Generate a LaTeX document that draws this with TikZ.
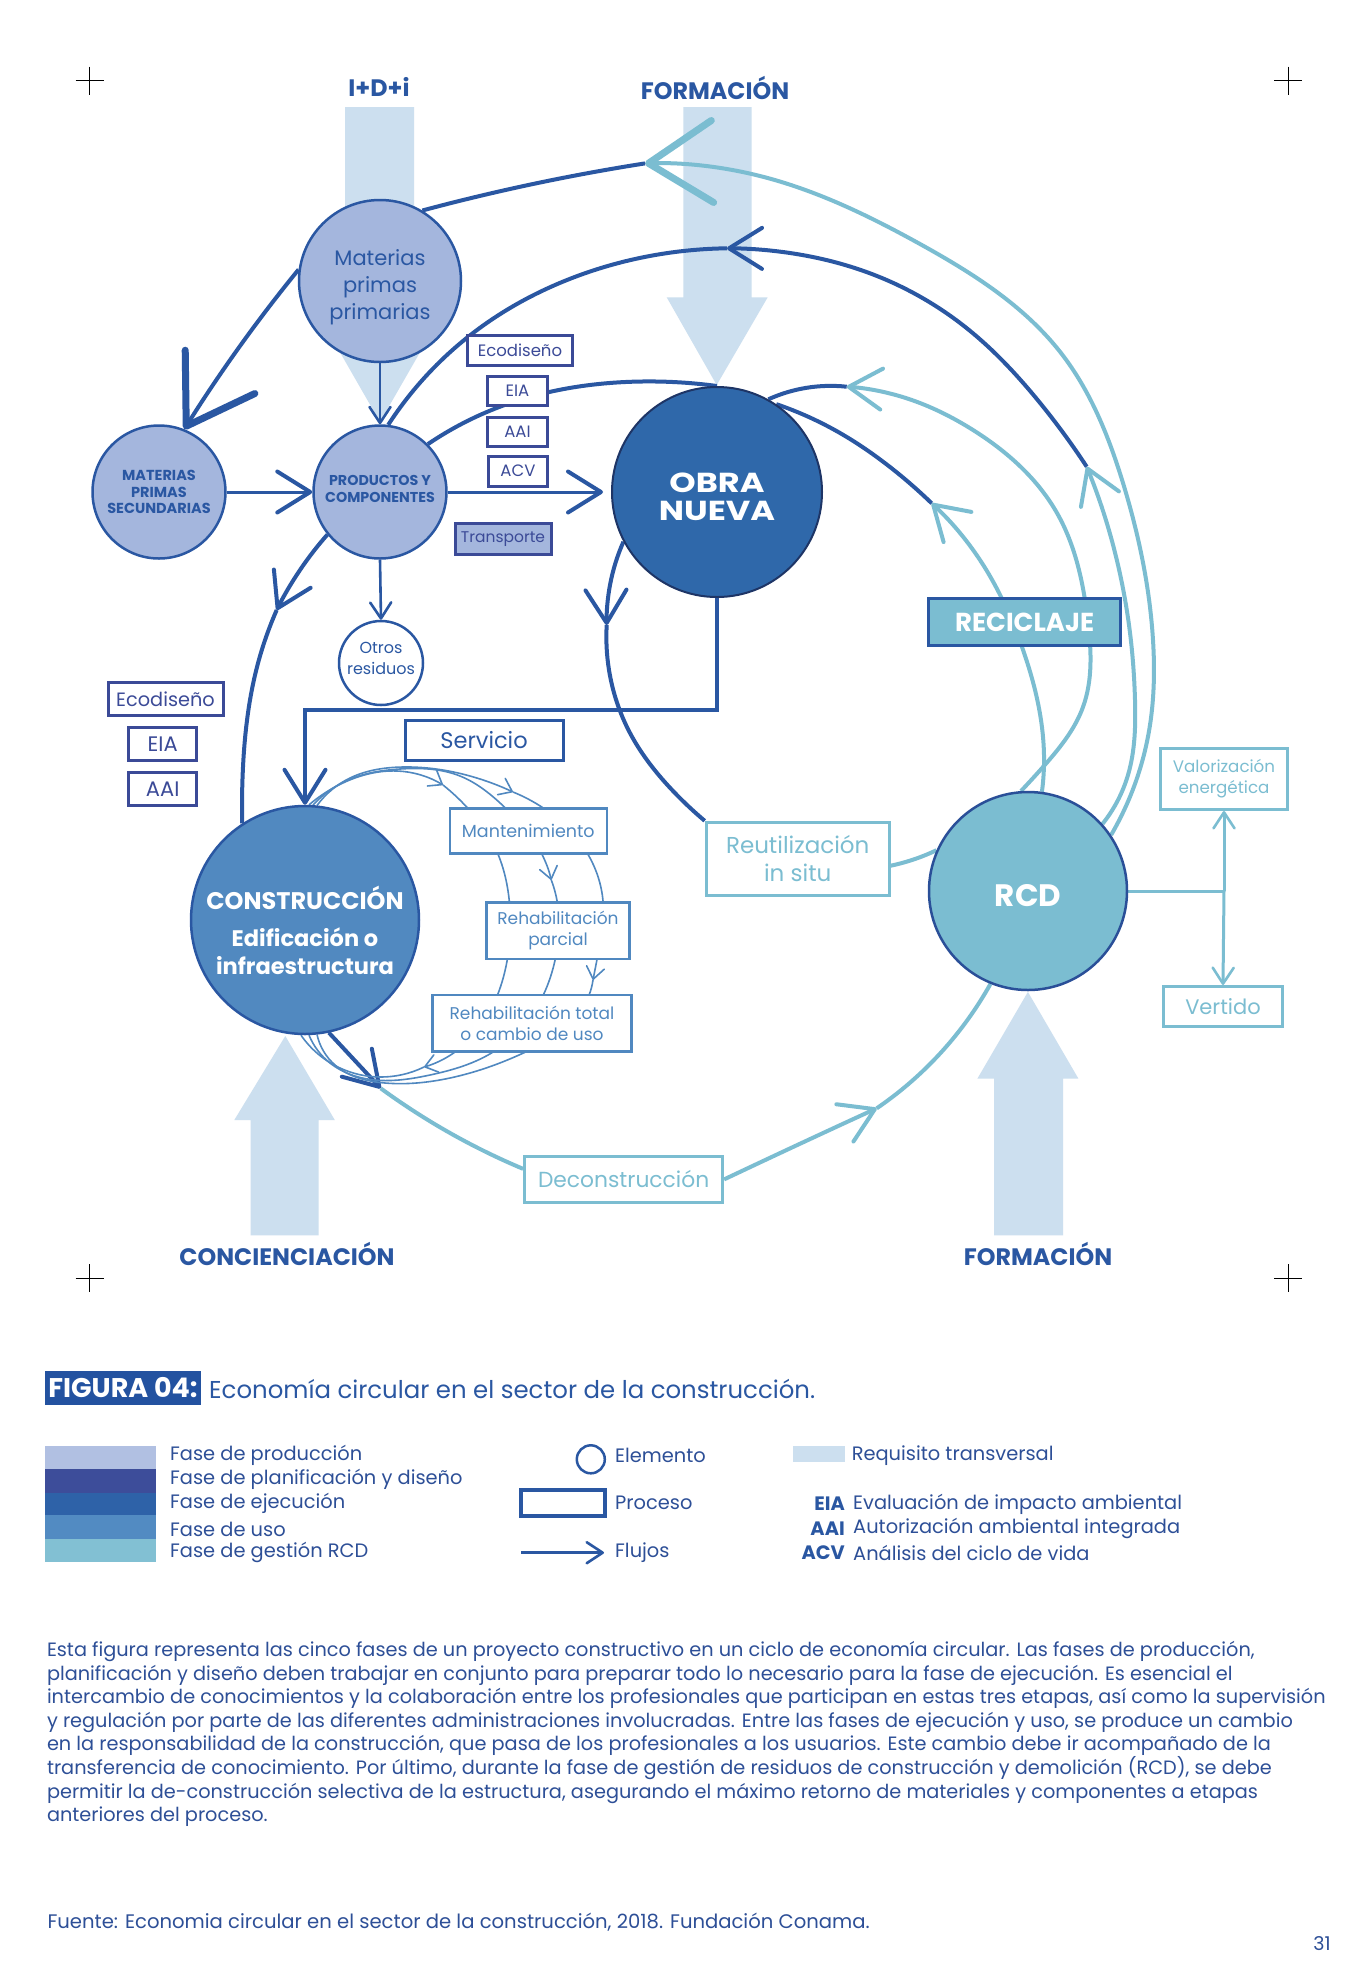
\documentclass[tikz,border=0pt]{standalone}
\usepackage{fontspec}
\setmainfont{Poppins}
\usetikzlibrary{arrows.meta,calc,hobby}
\pgfdeclarelayer{back}
\pgfdeclarelayer{bg}
\pgfsetlayers{back,bg,main}
\definecolor{cdark}{HTML}{2A57A2}
\definecolor{cindigo}{HTML}{3B4A97}
\definecolor{cprod}{HTML}{A4B6DD}
\definecolor{cobra}{HTML}{2F68AA}
\definecolor{cobraline}{HTML}{1E3566}
\definecolor{ccons}{HTML}{5189C0}
\definecolor{crcd}{HTML}{7BBDD1}
\definecolor{crcdline}{HTML}{2A4F98}
\definecolor{clight}{HTML}{7BBDD1}
\definecolor{cuse}{HTML}{5088C0}
\definecolor{ctrans}{HTML}{CCDFEF}
\definecolor{ctext}{HTML}{2D4F97}
\definecolor{cfig}{HTML}{2352A0}
\definecolor{clegprod}{HTML}{B1C0E2}
\definecolor{clegplan}{HTML}{3D4D9A}
\definecolor{clegejec}{HTML}{2E62A8}
\definecolor{cleguso}{HTML}{528BC2}
\definecolor{clegrcd}{HTML}{82C0D3}
\newcommand\myfs[2]{\fontsize{#1}{#2}\selectfont}
\tikzset{
  BigChev/.tip={Straight Barb[length=64pt,width=82pt,line width=7pt,round]},
  MedChev/.tip={Straight Barb[length=33pt,width=41pt,line width=4pt,round]},
  SmallChev/.tip={Straight Barb[length=16pt,width=21pt,line width=2.6pt,round]},
  ThinChev/.tip={Straight Barb[length=12pt,width=18pt,line width=1.6pt,round]},
  darkln/.style={draw=cdark, line width=4pt},
  lightln/.style={draw=clight, line width=4pt},
  thinln/.style={draw=cuse, line width=1.6pt},
  circ/.style={circle, inner sep=0pt, align=center, line width=2.5pt},
  box/.style={rectangle, inner sep=0pt, align=center, line width=3pt, fill=white},
  planbox/.style={box, draw=cindigo, text=cindigo},
  usebox/.style={box, draw=cuse, text=cuse, line width=2.6pt},
  rcdbox/.style={box, draw=clight, text=clight},
  toplabel/.style={font=\bfseries\myfs{23.8}{27}, text=cdark, inner sep=0pt},
  legtext/.style={font=\myfs{19.4}{23}, text=ctext, anchor=west, inner sep=0pt},
  cross/.style={draw=black, line width=1pt},
}
\begin{document}
\begin{tikzpicture}[x=1pt,y=-1pt]
\begin{pgfonlayer}{back}
\fill[white] (0,0) rectangle (1348,1974);
% transversal requirement arrows
\fill[ctrans] (345,107) -- (414,107) -- (414,334) -- (430.5,334) -- (380,422) -- (329.5,334) -- (345,334) -- cycle;
\fill[ctrans] (683.3,107) -- (751.7,107) -- (751.7,297.3) -- (767.7,297.3) -- (716.7,385) -- (666.7,297.3) -- (683.3,297.3) -- cycle;
\fill[ctrans] (994,1235.4) -- (1063,1235.4) -- (1063,1078.6) -- (1078.4,1078.6) -- (1027.9,991.9) -- (977.4,1078.6) -- (994,1078.6) -- cycle;
\fill[ctrans] (250.6,1235.4) -- (318.5,1235.4) -- (318.5,1120) -- (334.8,1120) -- (285.3,1036) -- (234.3,1120) -- (250.6,1120) -- cycle;
\end{pgfonlayer}
\useasboundingbox (0,0) rectangle (1348,1974);

% crosshairs
\foreach \cx/\cy in {89.5/80.5, 1288/80.5, 89.5/1278, 1288/1278}
  {\draw[cross] (\cx-14,\cy) -- (\cx+14,\cy) (\cx,\cy-14) -- (\cx,\cy+14);}

% labels
\node[toplabel] (lidi) at (379,87) {I+D+i};
\node[toplabel] (lform1) at (715,88) {FORMACIÓN};
\node[toplabel] (lconc) at (287,1253.5) {CONCIENCIACIÓN};
\node[toplabel] (lform2) at (1038,1253.5) {FORMACIÓN};

% elements (circles)
\node[circ, draw=cdark, fill=cprod, minimum size=162pt] (mpp) at (380,281) {};
\node[text=cdark, align=center, inner sep=0pt, font=\myfs{21}{27}] (mppT) at (380,287) {Materias\\primas\\primarias};
\node[circ, draw=cdark, fill=cprod, text=cdark, minimum size=133pt, font=\bfseries\myfs{14.5}{16.5}] (mps) at (159,492) {MATERIAS\\PRIMAS\\SECUNDARIAS};
\node[circ, draw=cdark, fill=cprod, minimum size=133pt] (prod) at (380,492) {};
\node[text=cdark, align=center, inner sep=0pt, font=\bfseries\myfs{14.3}{17.3}] (prodT) at (380,489) {PRODUCTOS Y\\COMPONENTES};
\node[circ, draw=cdark, fill=white, minimum size=84pt] (otros) at (381,663) {};
\node[text=cdark, align=center, inner sep=0pt, font=\myfs{16}{21}] (otrosT) at (381,658) {Otros\\residuos};
\node[circ, draw=cobraline, line width=2pt, fill=cobra, minimum size=210pt] (obra) at (717,492) {};
\node[text=white, align=center, inner sep=0pt, font=\bfseries\myfs{27.5}{27.5}\addfontfeature{FakeStretch=1.22}] (obraT) at (717,497) {OBRA\\NUEVA};
\node[circ, draw=cdark, fill=ccons, minimum size=228pt] (cons) at (305,920) {};
\node[text=white, align=center, inner sep=0pt, font=\bfseries\myfs{22.5}{28}] (consT) at (305,930) {{\myfs{24}{28}CONSTRUCCIÓN}\\[9pt]Edificación o\\infraestructura};
\node[circ, draw=crcdline, fill=crcd, minimum size=198pt] (rcd) at (1028,891) {};
\node[text=white, inner sep=0pt, font=\bfseries\myfs{31}{31}] (rcdT) at (1028,896) {RCD};

% processes (boxes)
\node[planbox, minimum width=105pt, minimum height=30pt, font=\myfs{16.5}{20}] (eco1) at (520,350) {Ecodiseño};
\node[planbox, minimum width=60pt, minimum height=29pt, font=\myfs{16.5}{20}] (eia1) at (517.5,390.7) {EIA};
\node[planbox, minimum width=60pt, minimum height=29pt, font=\myfs{16.5}{20}] (aai1) at (517.5,431.5) {AAI};
\node[planbox, minimum width=59pt, minimum height=30pt, font=\myfs{16.5}{20}] (acv1) at (518,471) {ACV};
\node[planbox, fill=cprod, minimum width=96pt, minimum height=31pt, font=\myfs{15.5}{19}] (transp) at (503,539) {Transporte};
\node[planbox, minimum width=115pt, minimum height=33pt, font=\myfs{19.3}{22}] (eco2) at (165.5,699.4) {Ecodiseño};
\node[planbox, minimum width=68pt, minimum height=33pt, font=\myfs{21}{22}] (eia2) at (162.7,744.4) {EIA};
\node[planbox, minimum width=68pt, minimum height=33pt, font=\myfs{21}{22}] (aai2) at (162.7,789.4) {AAI};
\node[box, draw=cdark, text=cdark, minimum width=158pt, minimum height=40pt, font=\myfs{22.5}{24}] (serv) at (484,740) {Servicio};
\node[usebox, minimum width=157pt, minimum height=45pt, font=\myfs{17.5}{21}] (mant) at (528.3,830.8) {Mantenimiento};
\node[usebox, minimum width=143.5pt, minimum height=56.7pt, font=\myfs{17}{21}] (rehp) at (558,930.7) {Rehabilitación\\parcial};
\node[usebox, minimum width=199pt, minimum height=56.7pt, font=\myfs{17}{20.5}] (reht) at (532,1023.4) {Rehabilitación total\\o cambio de uso};
\node[box, fill=crcd, draw=cdark, text=white, minimum width=192pt, minimum height=47pt, font=\bfseries\myfs{26}{27}] (recic) at (1024.7,622) {RECICLAJE};
\node[rcdbox, minimum width=183pt, minimum height=73pt, font=\myfs{23}{28}] (reut) at (797.7,858.8) {Reutilización\\in situ};
\node[rcdbox, minimum width=127.5pt, minimum height=61pt, font=\myfs{16.7}{21}] (valor) at (1224,779) {Valorización\\energética};
\node[rcdbox, minimum width=119pt, minimum height=40pt, font=\myfs{21}{22}] (vert) at (1223,1006.5) {Vertido};
\node[rcdbox, minimum width=198pt, minimum height=46.7pt, font=\myfs{21.8}{25}] (decon) at (623.6,1179.4) {Deconstrucción};

% junction coordinates
\coordinate (aJ) at (645,163.4);
\coordinate (bJ1) at (727,248.3);
\coordinate (bJ2) at (1086.7,466.7);
\coordinate (cJ) at (846.7,386.7);
\coordinate (dJ) at (931.7,503.3);
\coordinate (eJ) at (606.7,625);
\coordinate (fJ) at (276.7,610);
\coordinate (gJ) at (380.7,1088.3);
\coordinate (hJ) at (876.7,1108.3);
\coordinate (elb) at (717,710);
\coordinate (vsplit) at (1224,891);
\coordinate (reutR) at (889.3,866);
\coordinate (u1a) at (443,785);
\coordinate (u1b) at (424,1067);
\coordinate (u2a) at (551.3,880);
\coordinate (u3a) at (513,792);
\coordinate (u3b) at (593,980);

\begin{pgfonlayer}{bg}
% outer return: RCD -> materias primas secundarias
\draw[lightln, -{BigChev}] (rcd.34) to[curve through={(1150,725) .. (1153,640) .. (1123,483) .. (1061,353) .. (920,244) .. (760,176)}] (aJ);
\draw[darkln] (aJ) to[curve through={(533,184)}] (mpp.59);
\draw[darkln, -{BigChev}] (mpp.172) to[curve through={(235,353)}] (mps.68);
% RCD -> productos
\draw[lightln, -{MedChev}] (rcd.42) to[curve through={(1128,775) .. (1135,700) .. (1129,625)}] (bJ2);
\draw[darkln, -{MedChev}] (bJ2) to[curve through={(1036,398) .. (969,330) .. (877,276) .. (790,253)}] (bJ1);
\draw[darkln] (bJ1) to[curve through={(675,252) .. (567,280) .. (477,330)}] (prod.83);
% RCD -> obra nueva (reciclaje)
\draw[lightln, -{MedChev}] (rcd.94) to[curve through={(1043,767) .. (1083,707) .. (1088,622) .. (1057,513) .. (973,430) .. (906.7,398.3)}] (cJ);
\draw[darkln] (cJ) to[curve through={(800,389)}] (obra.61);
\draw[lightln, -{MedChev}] (rcd.82) to[curve through={(1044,755) .. (1022,647) .. (980,560)}] (dJ);
\draw[darkln] (dJ) to[curve through={(890,467) .. (840,433)}] (obra.56);
% productos -> obra nueva
\draw[darkln] (prod.45) to[curve through={(500,406.7) .. (633,381.7)}] (obra.90);
\draw[darkln, line width=3pt, -{MedChev}] (mps.east) -- (prod.west);
\draw[darkln, line width=3pt, -{MedChev}, shorten >=8pt] (prod.east) -- (obra.west);
\draw[darkln, line width=2.6pt, -{SmallChev}] (mpp.south) -- (prod.north);
\draw[darkln, line width=2.6pt, -{SmallChev}] (prod.south) -- (otros.north);
% obra nueva -> reutilizacion
\draw[darkln, -{MedChev}] (obra.208) to[curve through={(610,585)}] (eJ);
\draw[darkln] (eJ) to[curve through={(609,670) .. (630,733) .. (674,792)}] (reut.north west);
\draw[lightln] (reutR) to[curve through={(912,860)}] (rcd.156);
% productos -> construccion
\draw[darkln, -{MedChev}] (prod.219) to[curve through={(300,570)}] (fJ);
\draw[darkln] (fJ) to[curve through={(257,667) .. (243,767)}] (cons.123);
% obra nueva -> construccion (servicio)
\draw[darkln, line width=3.3pt, -{MedChev}] (obra.south) -- (elb) -| (cons.north);
% construccion -> deconstruccion -> RCD
\draw[darkln, -{MedChev}] (cons.-78) -- (gJ);
\draw[lightln] (gJ) to[curve through={(450,1133)}] (decon.174);
\draw[lightln, -{MedChev}] (decon.east) to[curve through={(793,1147)}] (hJ);
\draw[lightln] (hJ) to[curve through={(927,1067)}] (rcd.248);
% RCD -> valorizacion / vertido
\draw[lightln, line width=3pt] (rcd.east) -- (vsplit);
\draw[lightln, line width=3pt, -{SmallChev}] (vsplit) -- (valor.south);
\draw[lightln, line width=3pt, -{SmallChev}] (vsplit) -- (vert.north);
% use cycle
\draw[thinln, -{ThinChev}] (cons.88) to[curve through={(345,782) .. (397,771)}] (u1a);
\draw[thinln, -{ThinChev}] (u1a) to[curve through={(467.6,808) .. (497.5,853) .. (509.4,902) .. (507.4,959) .. (497.5,995) .. (453.6,1053)}] (u1b);
\draw[thinln] (u1b) to[curve through={(380,1077) .. (340,1068)}] (cons.-92);
\draw[thinln, -{ThinChev}] (cons.86) to[curve through={(348,780) .. (400,769) .. (460,776) .. (505.4,808) .. (541.3,853)}] (u2a);
\draw[thinln] (u2a) to[curve through={(557.3,902) .. (555.3,959) .. (543.3,995) .. (491.5,1053) .. (430,1075) .. (375,1080) .. (330,1063)}] (cons.-88);
\draw[thinln, -{ThinChev}] (cons.84) to[curve through={(350,778) .. (403,767) .. (470,776)}] (u3a);
\draw[thinln, -{ThinChev}] (u3a) to[curve through={(543.3,808) .. (587.2,853) .. (603.1,902) .. (597.1,959)}] (u3b);
\draw[thinln] (u3b) to[curve through={(589.1,995) .. (523.4,1053) .. (450,1078) .. (385,1083) .. (335,1065)}] (cons.-84);
\end{pgfonlayer}

% caption and legend
\node[fill=cfig, text=white, font=\bfseries\myfs{27}{28}, minimum width=156pt, minimum height=34pt, inner sep=0pt] (fig) at (123,1388) {FIGURA 04:};
\node[anchor=west, text=cdark, font=\myfs{24.4}{28}, inner sep=0pt] (caption) at (209,1389) {Economía circular en el sector de la construcción.};
\fill[clegprod] (45,1446) rectangle (156,1469);
\fill[clegplan] (45,1469) rectangle (156,1493);
\fill[clegejec] (45,1493) rectangle (156,1515);
\fill[cleguso] (45,1515) rectangle (156,1539);
\fill[clegrcd] (45,1539) rectangle (156,1562);
\node[legtext] (lg1) at (170,1455.3) {Fase de producción};
\node[legtext] (lg2) at (170,1479) {Fase de planificación y diseño};
\node[legtext] (lg3) at (170,1503.7) {Fase de ejecución};
\node[legtext] (lg4) at (170,1529) {Fase de uso};
\node[legtext] (lg5) at (170,1552.7) {Fase de gestión RCD};
\node[circle, draw=cdark, line width=2.5pt, minimum size=28pt, inner sep=0pt] (legel) at (590.8,1459.3) {};
\node[legtext] (legelt) at (615,1455) {Elemento};
\node[draw=cdark, line width=3.5pt, minimum width=84pt, minimum height=26pt, inner sep=0pt] (legpr) at (563,1503) {};
\node[legtext] (legprt) at (615,1503) {Proceso};
\coordinate (fl1) at (521,1552.7);
\coordinate (fl2) at (604,1552.7);
\draw[darkln, line width=3.5pt, -{SmallChev}] (fl1) -- (fl2);
\node[legtext] (legflt) at (615,1552.7) {Flujos};
\fill[ctrans] (793,1446) rectangle (845,1462);
\node[legtext] (legrq) at (851.6,1455.3) {Requisito transversal};
\node[anchor=east, text=cdark, font=\bfseries\myfs{19.4}{23}, inner sep=0pt] (ab1) at (845,1504) {EIA};
\node[anchor=east, text=cdark, font=\bfseries\myfs{19.4}{23}, inner sep=0pt] (ab2) at (845,1528.7) {AAI};
\node[anchor=east, text=cdark, font=\bfseries\myfs{19.4}{23}, inner sep=0pt] (ab3) at (845,1552.7) {ACV};
\node[legtext] (ab1t) at (853,1504) {Evaluación de impacto ambiental};
\node[legtext] (ab2t) at (853,1528.7) {Autorización ambiental integrada};
\node[legtext] (ab3t) at (853,1552.7) {Análisis del ciclo de vida};

% explanatory paragraph
\node[anchor=north west, align=left, inner sep=0pt, text=ctext, font=\myfs{19.3}{23.6}] (para) at (46.8,1641) {Esta figura representa las cinco fases de un proyecto constructivo en un ciclo de economía circular. Las fases de producción,\\planificación y diseño deben trabajar en conjunto para preparar todo lo necesario para la fase de ejecución. Es esencial el\\intercambio de conocimientos y la colaboración entre los profesionales que participan en estas tres etapas, así como la supervisión\\y regulación por parte de las diferentes administraciones involucradas. Entre las fases de ejecución y uso, se produce un cambio\\en la responsabilidad de la construcción, que pasa de los profesionales a los usuarios. Este cambio debe ir acompañado de la\\transferencia de conocimiento. Por último, durante la fase de gestión de residuos de construcción y demolición (RCD), se debe\\permitir la de-construcción selectiva de la estructura, asegurando el máximo retorno de materiales y componentes a etapas\\anteriores del proceso.};
\node[legtext, font=\myfs{19.6}{23}] (src) at (47.3,1921.7) {Fuente: Economia circular en el sector de la construcción, 2018. Fundación Conama.};
\node[text=ctext, font=\myfs{19}{23}, inner sep=0pt] (page) at (1322,1943.3) {31};
\end{tikzpicture}
\end{document}
